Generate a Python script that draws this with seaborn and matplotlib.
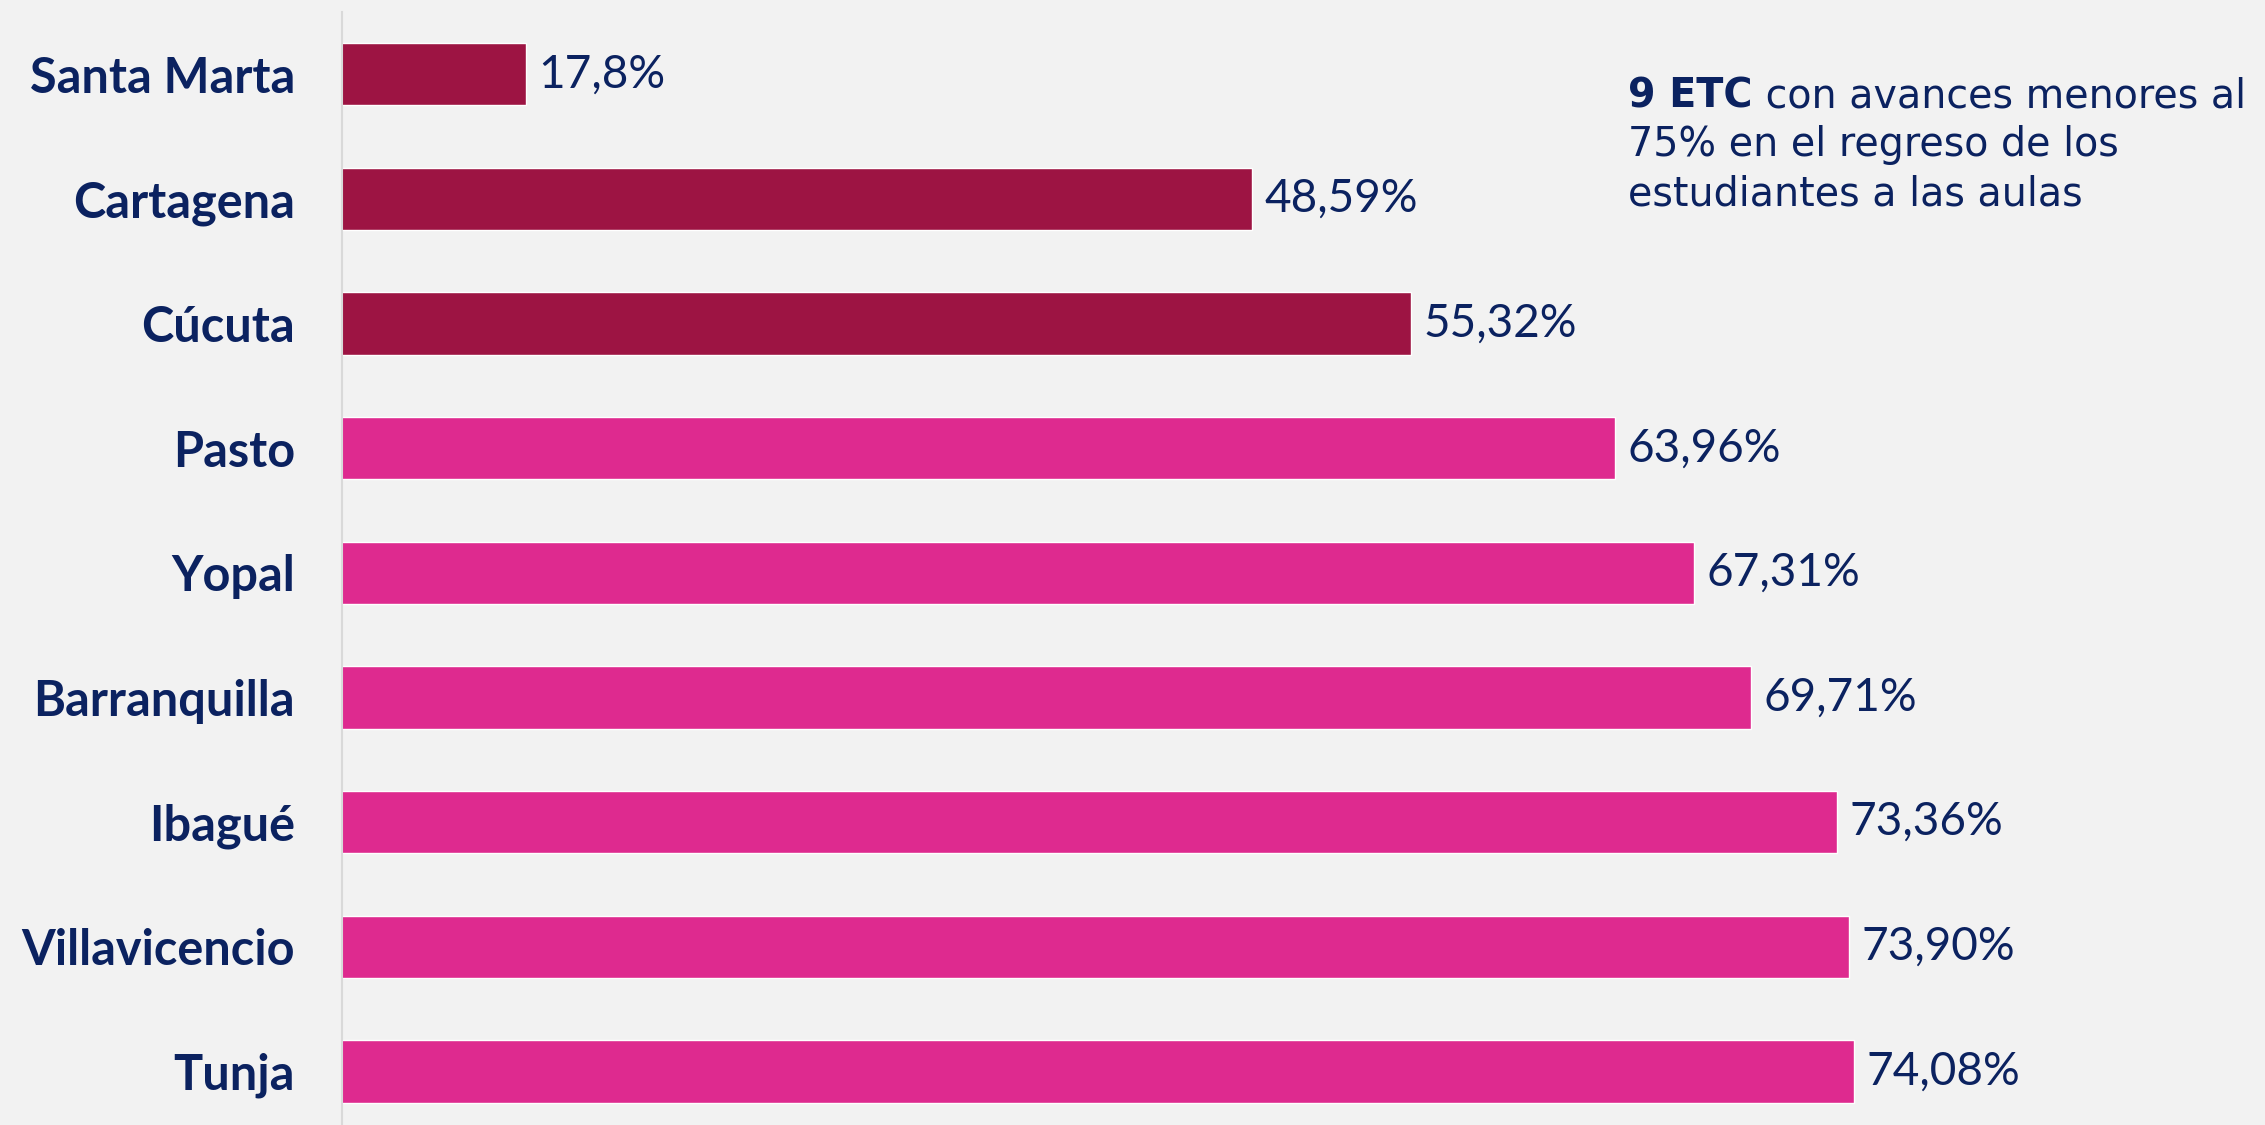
import matplotlib
matplotlib.use("Agg")
import matplotlib.pyplot as plt
import seaborn as sns
import pandas as pd

cities = ["Santa Marta", "Cartagena", "Cúcuta", "Pasto", "Yopal",
          "Barranquilla", "Ibagué", "Villavicencio", "Tunja"]
values = [17.8, 48.59, 55.32, 63.96, 67.31, 69.71, 73.36, 73.90, 74.08]
value_labels = ["17,8%", "48,59%", "55,32%", "63,96%", "67,31%",
                "69,71%", "73,36%", "73,90%", "74,08%"]
dark = "#9D1443"
pink = "#DE2A8F"
bar_colors = [dark, dark, dark, pink, pink, pink, pink, pink, pink]
navy = "#0B2260"
bg = "#F2F2F2"

sns.set_theme(style="white")
plt.rcParams["font.family"] = ["Lato", "DejaVu Sans"]

df = pd.DataFrame({"city": cities, "value": values})

fig = plt.figure(figsize=(22.65, 11.25), dpi=100, facecolor=bg)
ax = fig.add_axes([342 / 2265, 0.0, (2265 - 342) / 2265, 1 - 12 / 1125])
ax.set_facecolor(bg)

sns.barplot(data=df, x="value", y="city", hue="city", palette=bar_colors,
            orient="h", width=0.5, legend=False, ax=ax, saturation=1)

ax.set_xlim(10, 10 + (2265 - 342) / 23.59)
ax.set_ylim(8.43, -0.5)
ax.set_xlabel("")
ax.set_ylabel("")
ax.set_xticks([])
for s in ["top", "right", "bottom"]:
    ax.spines[s].set_visible(False)
ax.spines["left"].set_color("#D9D9D9")
ax.spines["left"].set_linewidth(1.5)
ax.tick_params(axis="y", length=0, pad=34)
for lbl in ax.get_yticklabels():
    lbl.set_fontsize(35)
    lbl.set_fontweight("bold")
    lbl.set_color(navy)

for i, (v, t) in enumerate(zip(values, value_labels)):
    ax.annotate(t, xy=(v, i), xytext=(9, 0), textcoords="offset points",
                va="center", ha="left", fontsize=33, color=navy)

x0 = 1628 / 2265
fs = 28.5
t1 = fig.text(x0, 1 - 107 / 1125, "9 ETC", fontsize=fs, fontweight="bold",
              color=navy, family="DejaVu Sans", va="baseline")
ax.annotate(" con avances menores al", xy=(1, 0), xycoords=t1,
            va="bottom", ha="left", fontsize=fs, color=navy,
            family="DejaVu Sans", annotation_clip=False)
fig.text(x0, 1 - 156 / 1125, "75% en el regreso de los", fontsize=fs,
         color=navy, family="DejaVu Sans", va="baseline")
fig.text(x0, 1 - 205 / 1125, "estudiantes a las aulas", fontsize=fs,
         color=navy, family="DejaVu Sans", va="baseline")

fig.savefig("out.png", dpi=100, facecolor=bg)
